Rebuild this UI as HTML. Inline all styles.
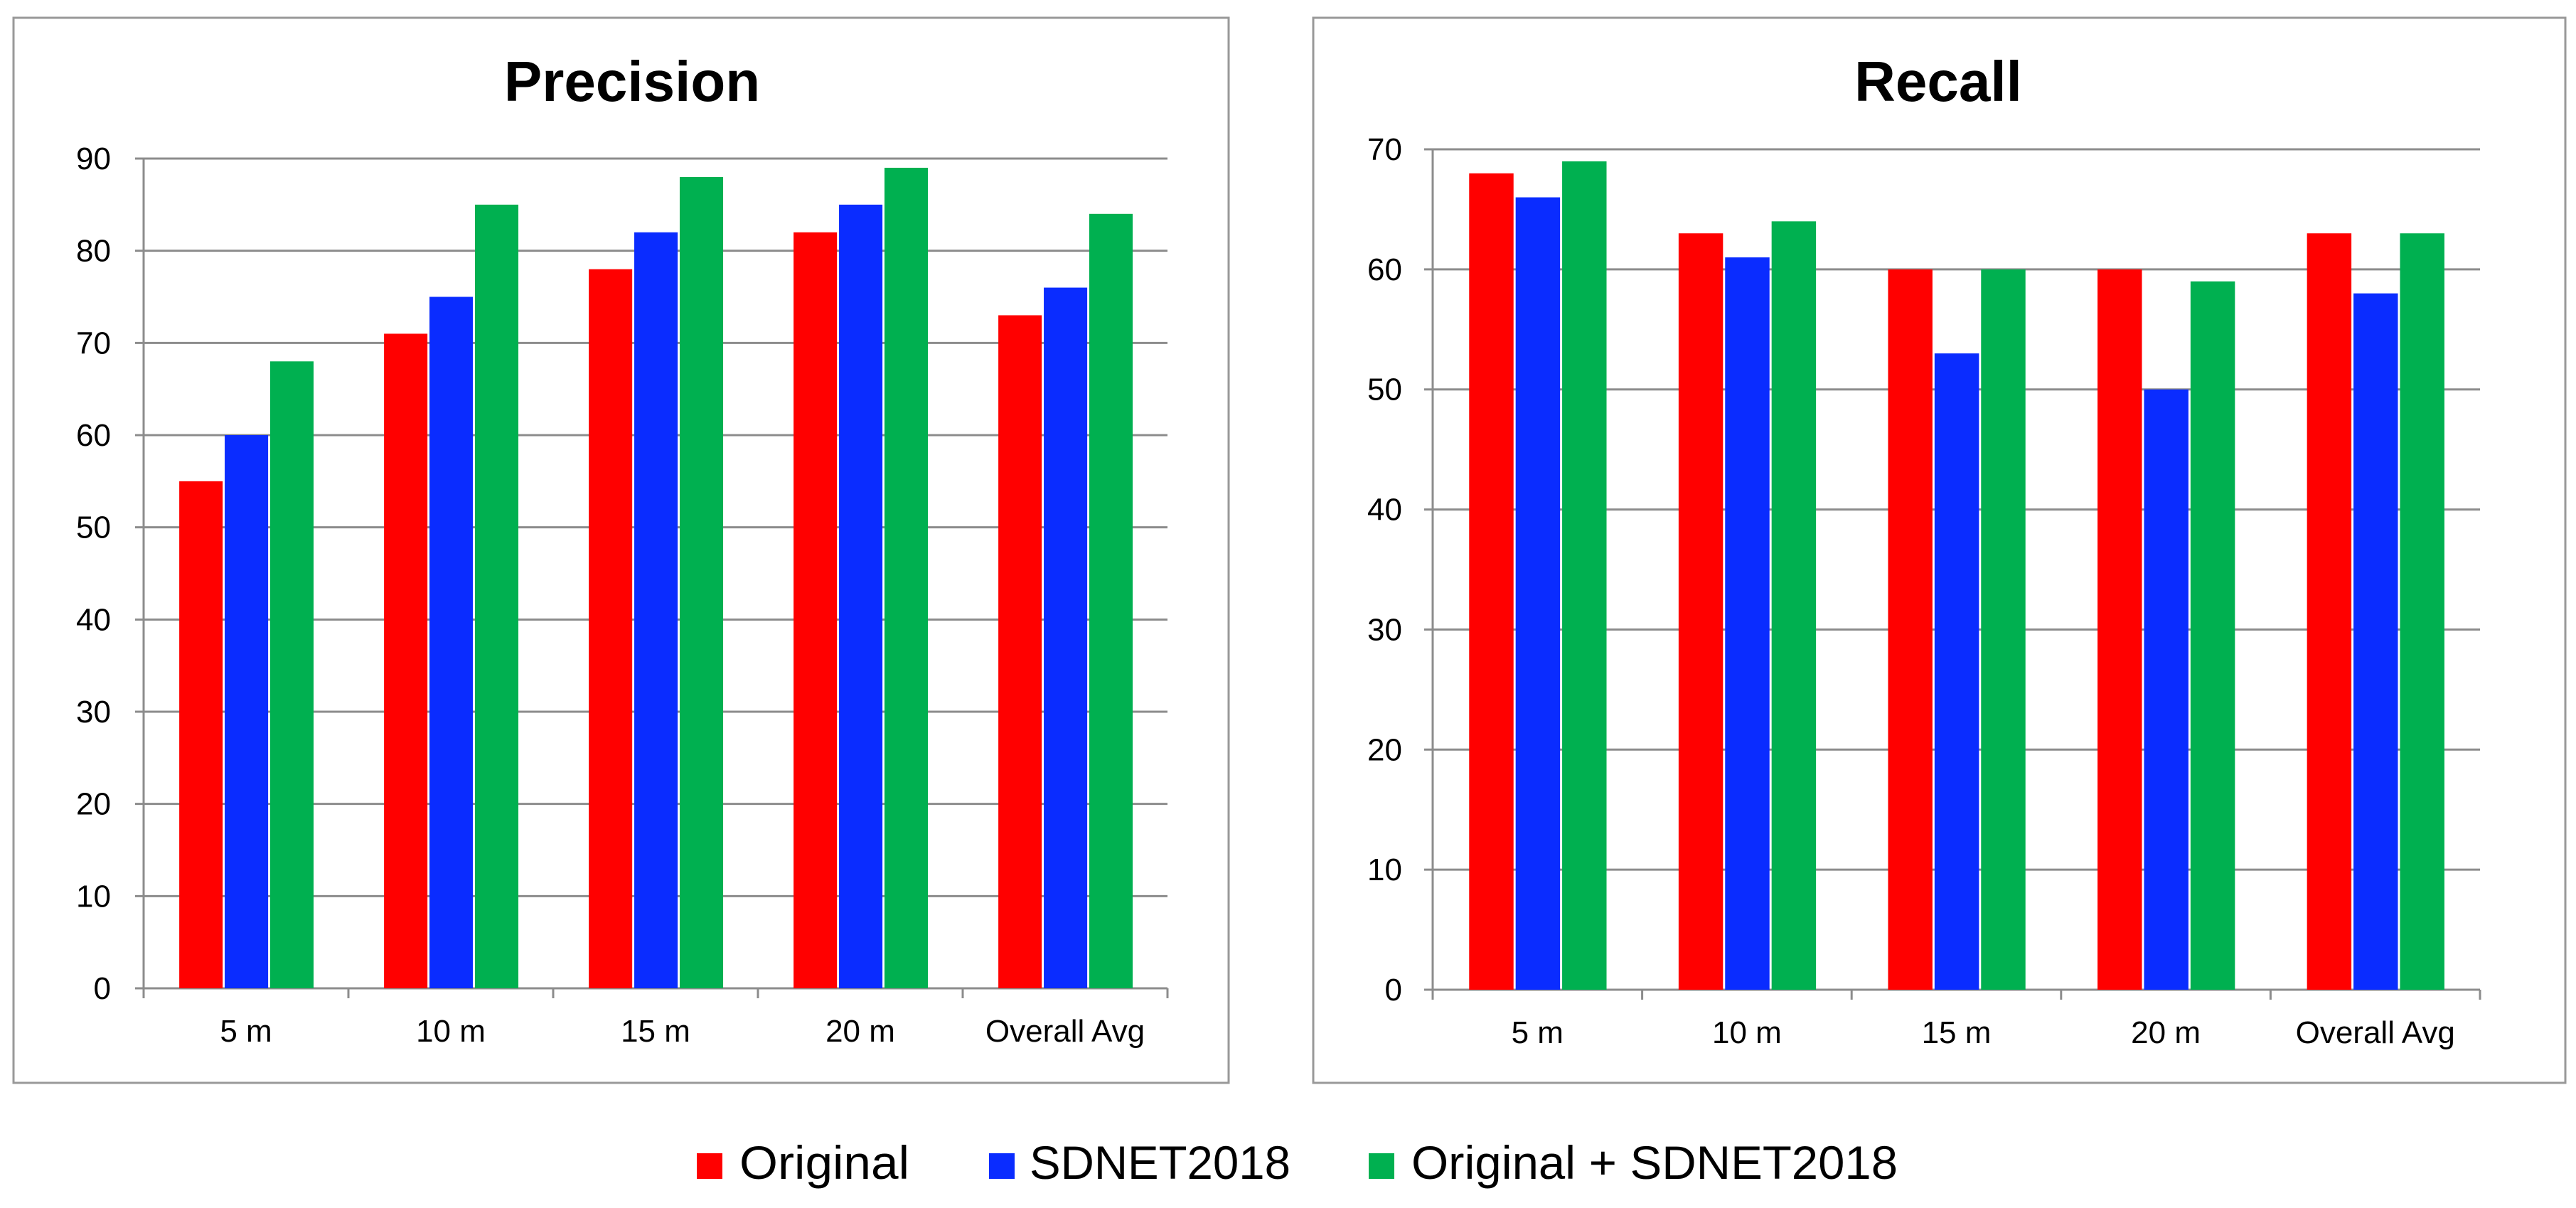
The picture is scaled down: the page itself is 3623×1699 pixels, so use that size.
<!DOCTYPE html>
<html><head><meta charset="utf-8"><style>
html,body{margin:0;padding:0;background:#fff;}
svg{display:block;}
text{font-family:"Liberation Sans Narrow","Liberation Sans",sans-serif;fill:#000;}
</style></head>
<body>
<svg id="fig" width="3623" height="1699" viewBox="0 0 3623 1699" xmlns="http://www.w3.org/2000/svg">
<rect x="19" y="25" width="1709" height="1498" fill="#fff" stroke="#999" stroke-width="3"/>
<rect x="1847" y="25" width="1761" height="1498" fill="#fff" stroke="#999" stroke-width="3"/>
<text x="889" y="142" font-size="80" font-weight="bold" text-anchor="middle">Precision</text>
<text x="2726" y="142" font-size="80" font-weight="bold" text-anchor="middle">Recall</text>
<g id="pc"></g>
<g id="rc"></g>
<g>
<g><rect x="980" y="1622" width="36" height="36" fill="#ff0000"/><text x="1040" y="1658" font-size="66" textLength="239" lengthAdjust="spacingAndGlyphs">Original</text></g>
<g><rect x="1391" y="1622" width="36" height="36" fill="#0a2cff"/><text x="1448" y="1658" font-size="66" textLength="367" lengthAdjust="spacingAndGlyphs">SDNET2018</text></g>
<g><rect x="1925" y="1622" width="36" height="36" fill="#00b050"/><text x="1985" y="1658" font-size="66" textLength="684" lengthAdjust="spacingAndGlyphs">Original + SDNET2018</text></g>
</g>
</svg>
<script>
const categories = ["5 m","10 m","15 m","20 m","Overall Avg"];
const precOriginal = [55,71,78,82,73];
const precSdnet = [60,75,82,85,76];
const precCombined = [68,85,88,89,84];
const precTicks = [0,10,20,30,40,50,60,70,80,90];
const recOriginal = [68,63,60,60,63];
const recSdnet = [66,61,53,50,58];
const recCombined = [69,64,60,59,63];
const recTicks = [0,10,20,30,40,50,60,70];
const colors = ["#ff0000","#0a2cff","#00b050"];
const seriesNames = ["original","sdnet2018","combined"];
const NS = "http://www.w3.org/2000/svg";
function mk(tag, attrs, parent){const e=document.createElementNS(NS,tag);for(const k in attrs)e.setAttribute(k,attrs[k]);parent.appendChild(e);return e;}
function draw(g, cfg, series, ticks, prefix){
  const yMax = ticks[ticks.length-1];
  const y = v => cfg.y0 - (cfg.y0 - cfg.yTop) * v / yMax;
  const catW = (cfg.x1 - cfg.x0) / categories.length;
  const xc = i => cfg.x0 + catW * i;
  ticks.forEach(t => {
    const l = mk("line",{x1:cfg.x0-12,x2:cfg.x1,y1:y(t),y2:y(t),stroke:"#8c8c8c","stroke-width":3},g);
    
    
    const tx = mk("text",{x:cfg.lblX,y:y(t)+15,"font-size":44,"text-anchor":"end"},g);
    tx.textContent = t;
    
    
  });
  const ax = mk("line",{x1:cfg.x0,x2:cfg.x0,y1:cfg.yTop,y2:cfg.y0+14,stroke:"#8c8c8c","stroke-width":3},g);
  
  
  for(let i=1;i<=categories.length;i++){
    const tk = mk("line",{x1:xc(i),x2:xc(i),y1:cfg.y0,y2:cfg.y0+14,stroke:"#8c8c8c","stroke-width":3},g);
    
    
  }
  const bw = catW*0.212, gap = catW*0.01, off = catW*0.174;
  categories.forEach((c,i) => {
    series.forEach((s,j) => {
      const v = s[i];
      const r = mk("rect",{x:xc(i)+off+j*(bw+gap),y:y(v),width:bw,height:cfg.y0-y(v),fill:colors[j]},g);
      
      
    });
    const lt = mk("text",{x:xc(i)+catW/2,y:cfg.y0+75,"font-size":44,"text-anchor":"middle"},g);
    lt.textContent = c;
    
    
  });
}
draw(document.getElementById("pc"), {x0:202,x1:1642,y0:1390,yTop:223,lblX:156}, [precOriginal,precSdnet,precCombined], precTicks, "precision");
draw(document.getElementById("rc"), {x0:2015,x1:3488,y0:1392,yTop:210,lblX:1972}, [recOriginal,recSdnet,recCombined], recTicks, "recall");
</script>
</body></html>
